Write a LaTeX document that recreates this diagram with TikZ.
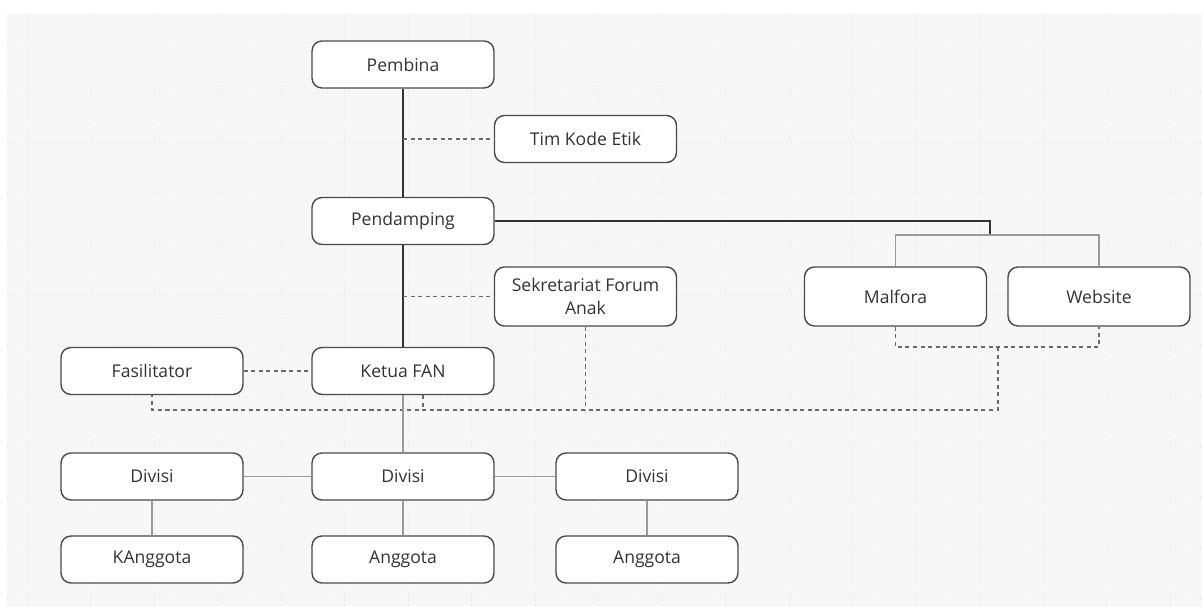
\documentclass[tikz,border=0pt]{standalone}
\usepackage{fontspec}
\setmainfont{Open Sans}
\usepackage{xcolor}
\definecolor{bggrey}{HTML}{F7F7F7}
\definecolor{gridgrey}{HTML}{E0E0E0}
\definecolor{boxline}{HTML}{4A4A4A}
\definecolor{textgrey}{HTML}{333333}
\definecolor{linegrey}{HTML}{9A9A9A}
\definecolor{dashgrey}{HTML}{6A6A6A}

\begin{document}
\begin{tikzpicture}[x=0.02cm, y=-0.02cm,
    box/.style={draw=boxline, line width=0.8pt, fill=white, rounded corners=0.2cm,
      minimum width=3.64cm, minimum height=0.94cm, inner sep=0pt,
      text=textgrey, font=\fontsize{10}{13}\selectfont, align=center},
    tallbox/.style={box, minimum height=1.18cm},
    mainline/.style={draw=textgrey, line width=1.2pt},
    subline/.style={draw=linegrey, line width=0.9pt},
    dotline/.style={draw=dashgrey, line width=0.9pt, dash pattern=on 2.3pt off 2pt},
    gridline/.style={draw=gridgrey, line width=0.4pt, dotted}]
    \useasboundingbox (0,0) rectangle (1202,607);
    \fill[bggrey] (7,14) rectangle (1202,607);
    \foreach \gx in {0,...,18}
        \draw[gridline] ({27+63.5*\gx},14) -- ({27+63.5*\gx},607);
    \foreach \gy in {0,...,11}
        \draw[gridline] (7,{42+50.6*\gy}) -- (1202,{42+50.6*\gy});

    % top
    \node[box] (pembina) at (403,64.5) {Pembina};
    \node[box] (timkode) at (585.5,139) {Tim Kode Etik};
    \node[box] (pendamping) at (403,221) {Pendamping};
    \node[tallbox] (sekretariat) at (585.5,296.5) {Sekretariat Forum\\Anak};
    \node[tallbox] (malfora) at (895.5,296.5) {Malfora};
    \node[tallbox] (website) at (1099,296.5) {Website};
    \node[box] (fasilitator) at (152,371) {Fasilitator};
    \node[box] (ketua) at (403,371) {Ketua FAN};

    % divisi
    \node[box] (divisiA) at (152,476.5) {Divisi};
    \node[box] (divisiB) at (403,476.5) {Divisi};
    \node[box] (divisiC) at (647,476.5) {Divisi};
    \node[box] (anggotaA) at (152,559.5) {KAnggota};
    \node[box] (anggotaB) at (403,559.5) {Anggota};
    \node[box] (anggotaC) at (647,559.5) {Anggota};

    \coordinate (kodejoin) at (pembina |- timkode);
    \coordinate (sekjoin) at (pendamping |- sekretariat);
    \coordinate (bend) at (990,221);
    \coordinate (busjoin) at (997,235);
    \coordinate (mwjoin) at (998,347);
    \coordinate (lowbus) at (998,410);
    \coordinate (ketuastub) at ([xshift=0.4cm]ketua.south);

    \draw[mainline] (pembina) -- (pendamping);
    \draw[mainline] (pendamping) -- (ketua);
    \draw[mainline] (pendamping.east) -- (bend) |- (busjoin);
    \draw[subline] (malfora.north) |- (busjoin) -| (website.north);

    \draw[dotline] (kodejoin) -- (timkode.west);
    \draw[dotline] (sekjoin) -- (sekretariat.west);
    \draw[dotline] (fasilitator) -- (ketua);
    \draw[dotline] (malfora.south) |- (mwjoin) -| (website.south);
    \draw[dotline] (mwjoin) -- (lowbus) -| (fasilitator.south);
    \draw[dotline] (ketuastub) -- (ketuastub |- lowbus);
    \draw[dotline] (sekretariat.south) -- (sekretariat.south |- lowbus);

    \draw[subline] (ketua) -- (divisiB);
    \draw[subline] (divisiA) -- (divisiB) -- (divisiC);
    \draw[subline] (divisiA) -- (anggotaA);
    \draw[subline] (divisiB) -- (anggotaB);
    \draw[subline] (divisiC) -- (anggotaC);
\end{tikzpicture}
\end{document}
